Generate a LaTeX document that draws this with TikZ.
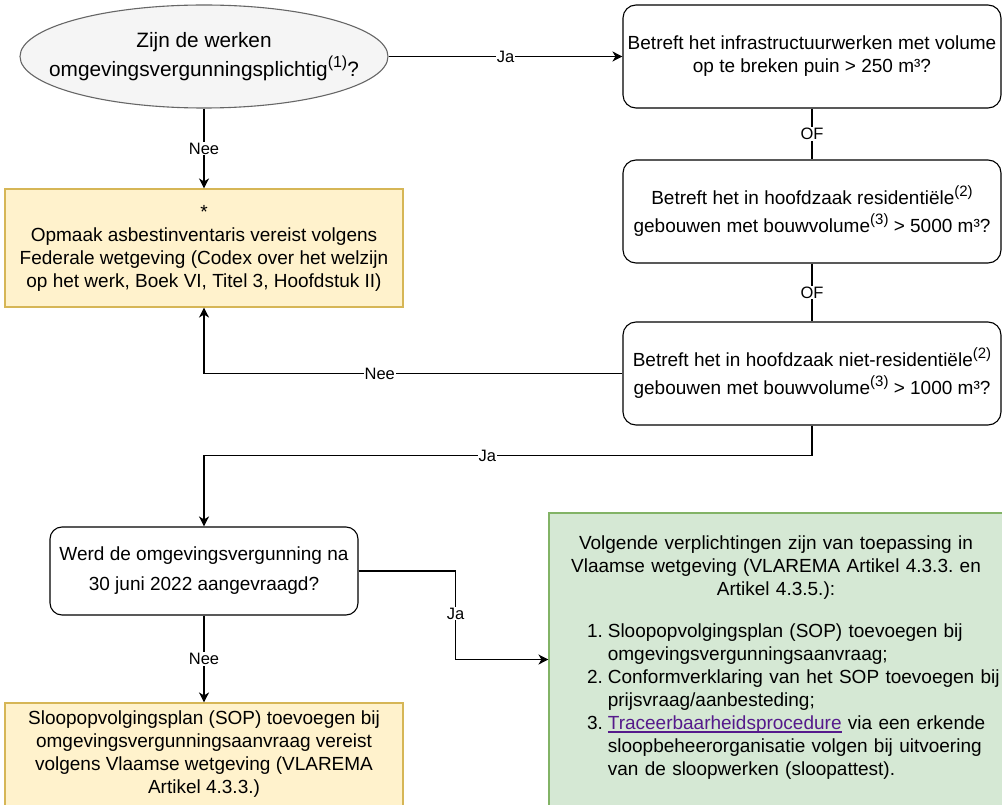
\documentclass[tikz,border=0pt]{standalone}
\usepackage{fontspec}
\setmainfont{Liberation Sans}
\usetikzlibrary{shapes.geometric,arrows.meta}
\frenchspacing

\definecolor{ellfill}{HTML}{F5F5F5}
\definecolor{elldraw}{HTML}{666666}
\definecolor{yelfill}{HTML}{FFF2CC}
\definecolor{yeldraw}{HTML}{D6B656}
\definecolor{grnfill}{HTML}{D5E8D4}
\definecolor{grndraw}{HTML}{82B366}
\definecolor{linkcol}{HTML}{551A8B}

\newcommand{\supnum}[1]{\raisebox{8pt}{\fontsize{15}{15}\selectfont #1}}
\newcommand{\linktekst}[1]{\textcolor{linkcol}{\setbox0\hbox{#1}\rlap{\rule[-2.6pt]{\wd0}{1.1pt}}\box0}}

\tikzset{
    txt/.style={font=\fontsize{19}{23}\selectfont, align=center, inner sep=0pt},
    vraag/.style={txt, draw, rounded corners=13pt, line width=1.1pt},
    startvraag/.style={ellipse, draw=elldraw, fill=ellfill, line width=1.1pt, inner sep=0pt},
    geelbox/.style={txt, draw=yeldraw, fill=yelfill, line width=1.1pt},
    groenbox/.style={txt, draw=grndraw, fill=grnfill, line width=1.1pt},
    lijn/.style={line width=1.1pt},
    pijl/.style={lijn, -{Stealth[length=10pt,width=10pt,inset=3pt]}},
    lbl/.style={font=\fontsize{16.5}{19}\selectfont, fill=white, inner sep=1pt}
}

\begin{document}
\begin{tikzpicture}[x=1pt, y=-1pt]
            \useasboundingbox (0,0) rectangle (1002,805);
            \clip (0,0) rectangle (1002,805);
            \fill[white] (0,0) rectangle (1002,805);

            \node at (204,56.5) [startvraag, minimum width=368pt, minimum height=103pt] (q0) {};
            \node at (q0.center) [txt, font=\fontsize{20.8}{29}\selectfont] (q0txt) {Zijn de werken\\omgevingsvergunningsplichtig\raisebox{9pt}{\fontsize{16}{16}\selectfont (1)}?};

            \node at (812,56.5) [vraag, minimum width=378pt, minimum height=103pt] (q1) {Betreft het infrastructuurwerken met volume\\op te breken puin > 250 m³?};
            \node at (812,211.5) [vraag, minimum width=378pt, minimum height=103pt, font=\fontsize{19}{28}\selectfont] (q2) {Betreft het in hoofdzaak residentiële\supnum{(2)}\\gebouwen met bouwvolume\supnum{(3)} > 5000 m³?};
            \node at (812,373.5) [vraag, minimum width=378pt, minimum height=103pt, font=\fontsize{19}{28}\selectfont] (q3) {Betreft het in hoofdzaak niet-residentiële\supnum{(2)}\\gebouwen met bouwvolume\supnum{(3)} > 1000 m³?};

            \node at (204,248) [geelbox, minimum width=398pt, minimum height=118pt] (asb) {*\\Opmaak asbestinventaris vereist volgens\\Federale wetgeving (Codex over het welzijn\\op het werk, Boek VI, Titel 3, Hoofdstuk II)};

            \node at (204,571) [vraag, rounded corners=12pt, minimum width=308pt, minimum height=88pt, font=\fontsize{19}{30}\selectfont] (werd) {Werd de omgevingsvergunning na\\30 juni 2022 aangevraagd?};

            \node at (204,754.5) [geelbox, minimum width=398pt, minimum height=103pt] (sop) {Sloopopvolgingsplan (SOP) toevoegen bij\\omgevingsvergunningsaanvraag vereist\\volgens Vlaamse wetgeving (VLAREMA\\Artikel 4.3.3.)};

            \node at (776,659.5) [groenbox, minimum width=454pt, minimum height=293pt, text width=440pt] (groen) {%
                {\centering Volgende verplichtingen zijn van toepassing in\\Vlaamse wetgeving (VLAREMA Artikel 4.3.3. en\\Artikel 4.3.5.):\par}
                \vspace{19pt}
                \hspace*{31pt}\begin{tabular}[t]{@{}r@{\hspace{5pt}}l@{}}
                    1. & Sloopopvolgingsplan (SOP) toevoegen bij\\
                       & omgevingsvergunningsaanvraag;\\
                    2. & Conformverklaring van het SOP toevoegen bij\\
                       & prijsvraag/aanbesteding;\\
                    3. & \linktekst{Traceerbaarheidsprocedure} via een erkende\\
                       & sloopbeheerorganisatie volgen bij uitvoering\\
                       & van de sloopwerken (sloopattest).
                \end{tabular}\hspace*{8pt}};

            \draw[pijl] (q0.east) -- node[lbl] {Ja} (q1.west);
            \draw[pijl] (q0.south) -- node[lbl] {Nee} (asb.north);
            \draw[lijn] (q1.south) -- node[lbl] {OF} (q2.north);
            \draw[lijn] (q2.south) -- node[lbl] {OF} (q3.north);
            \draw[pijl] (q3.west) -| node[lbl, pos=0.29] {Nee} (asb.south);
            \draw[pijl] (q3.south) -- ++(0,30) -| node[lbl, pos=0.267] {Ja} (werd.north);
            \draw[pijl] (werd.east) -- ++(97,0) |- node[lbl, pos=0.24] {Ja} (groen.west);
            \draw[pijl] (werd.south) -- node[lbl] {Nee} (sop.north);
        \end{tikzpicture}
\end{document}
